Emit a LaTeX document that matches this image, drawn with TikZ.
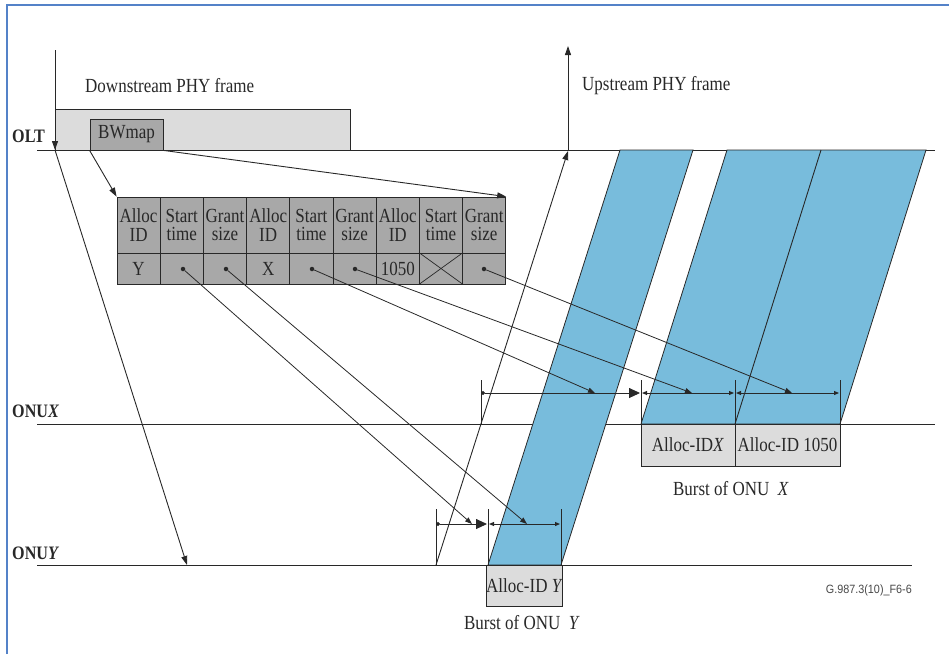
\documentclass[tikz,border=0pt]{standalone}
\usepackage{fontspec}
\setmainfont{Liberation Serif}[FakeStretch=0.85]
\newfontfamily\codefont{Liberation Sans}[FakeStretch=0.9]
\usetikzlibrary{arrows.meta}
\definecolor{lgray}{RGB}{220,220,220}
\definecolor{dgray}{RGB}{168,168,168}
\definecolor{burst}{RGB}{120,188,220}
\definecolor{ink}{RGB}{40,40,40}
\definecolor{frameblue}{RGB}{84,130,200}
\tikzset{
  ln/.style={draw=ink, line width=0.9pt},
  arr/.style={ln, -{Triangle[length=9pt,width=6pt]}},
  ptr/.style={draw=ink, line width=0.8pt, -{Triangle[length=7pt,width=5pt]}},
  dimbig/.style={ln, {Circle[length=4pt]}-{Triangle[length=11pt,width=10pt]}},
  dimsmall/.style={ln, {Triangle[length=5pt,width=4pt]}-{Triangle[length=5pt,width=4pt]}},
  txt/.style={inner sep=0pt, text=ink, font=\fontsize{20}{20}\selectfont},
  lbl/.style={inner sep=0pt, anchor=west, text=ink, font=\fontsize{19}{19}\selectfont\bfseries},
  cell/.style={draw=ink, line width=0.8pt, fill=dgray, minimum width=43.2pt, inner sep=0pt,
     align=center, text=ink, font=\fontsize{20}{18.5}\selectfont},
  hcell/.style={cell, minimum height=56pt},
  vcell/.style={cell, minimum height=31pt},
  dotnode/.style={circle, fill=ink, inner sep=0pt, minimum size=4.5pt},
  burstbox/.style={draw=ink, line width=0.8pt, fill=lgray, inner sep=0pt, text=ink,
     font=\fontsize{20}{20}\selectfont},
  burstfill/.style={fill=burst, draw=ink, line width=0.8pt},
}
\begin{document}
\begin{tikzpicture}[x=1pt,y=-1pt]
\useasboundingbox (0,0) rectangle (949,654);
% outer frame
\draw[frameblue, line width=2pt] (7,654) -- (7,5) -- (949,5);

% time lines
\coordinate (oltL) at (37,150);  \coordinate (oltR) at (935,150);
\coordinate (onxL) at (37,424);  \coordinate (onxR) at (935,424);
\coordinate (onyL) at (37,565);  \coordinate (onyR) at (912,565);
\draw[ln] (oltL) -- (oltR);
\draw[ln] (onxL) -- (onxR);
\draw[ln] (onyL) -- (onyR);
\node[lbl] (olt) at (12,136) {OLT};
\node[lbl] (onux) at (12,411) {ONU\textit{X}};
\node[lbl] (onuy) at (12,553) {ONU\textit{Y}};

% blue bursts
\path[burstfill] (488,565) -- (561,565) -- (693,150) -- (620,150) -- cycle;
\path[burstfill] (641,424) -- (840,424) -- (926,150) -- (727,150) -- cycle;
\draw[ln] (735,424) -- (821,150);

% downstream frame
\node[draw=ink, line width=0.8pt, fill=lgray, minimum width=295pt, minimum height=41pt, inner sep=0pt] (dsf) at (202.5,129.5) {};
\node[draw=ink, line width=0.8pt, fill=dgray, minimum width=73pt, minimum height=31pt, inner sep=0pt,
      text=ink, font=\fontsize{20}{20}\selectfont] (bw) at (126.5,134.5) {BWmap};
\node[txt, anchor=west] (dstxt) at (85,86) {Downstream PHY frame};
\coordinate (dstop) at (55,50);
\coordinate (dsolt) at (55,150);
\coordinate (dsonuy) at (187,565);
\draw[arr] (dstop) -- (dsolt);
\draw[arr] (dsolt) -- (dsonuy);

% upstream frame
\coordinate (usolt) at (568,150);
\coordinate (ustop) at (568,46);
\coordinate (usonuy) at (436,565);
\coordinate (usoltin) at (568,151);
\draw[arr] (usolt) -- (ustop);
\draw[arr] (usonuy) -- (usoltin);
\node[txt, anchor=west] (ustxt) at (582,86) {Upstream PHY frame};

% BWmap table
\foreach \i/\t in {1/{Alloc\\ID},2/{Start\\time},3/{Grant\\size},4/{Alloc\\ID},5/{Start\\time},6/{Grant\\size},7/{Alloc\\ID},8/{Start\\time},9/{Grant\\size}}{
  \node[hcell] (h\i) at ({117+43.2*(\i-0.5)},225) {\t};
}
\foreach \i/\t in {1/Y,2/{},3/{},4/X,5/{},6/{},7/1050,8/{},9/{}}{
  \node[vcell] (v\i) at ({117+43.2*(\i-0.5)},268.5) {\t};
}
\draw[ln, line width=0.7pt] (v8.north west) -- (v8.south east);
\draw[ln, line width=0.7pt] (v8.south west) -- (v8.north east);
\draw[arr] (bw.south west) -- (h1.north west);
\draw[arr] (bw.south east) -- (h9.north east);

\node[dotnode] (d2) at (183,269) {};
\node[dotnode] (d3) at (226,269) {};
\node[dotnode] (d5) at (312,269) {};
\node[dotnode] (d6) at (355,269) {};
\node[dotnode] (d9) at (484,269) {};

% ONU X dimension lines
\draw[ln] (481,380) -- (481,424);
\draw[ln] (641,380) -- (641,424);
\draw[ln] (735,380) -- (735,424);
\draw[ln] (840,380) -- (840,424);
\draw[dimbig] (481,393) -- (640,393);
\draw[dimsmall] (642,393) -- (734,393);
\draw[dimsmall] (736,393) -- (839,393);
\coordinate (tx1) at (595,393);
\coordinate (tx2) at (692,393);
\coordinate (tx3) at (792,393);
\draw[ptr] (d5) -- (tx1);
\draw[ptr] (d6) -- (tx2);
\draw[ptr] (d9) -- (tx3);

% ONU Y dimension lines
\draw[ln] (436,509) -- (436,565);
\draw[ln] (488,509) -- (488,565);
\draw[ln] (561,509) -- (561,565);
\draw[dimbig] (436,524) -- (487,524);
\draw[dimsmall] (489,524) -- (560,524);
\coordinate (ty1) at (472,524);
\coordinate (ty2) at (527,524);
\draw[ptr] (d2) -- (ty1);
\draw[ptr] (d3) -- (ty2);

% burst boxes
\node[burstbox, minimum width=94pt, minimum height=42pt] (bx1) at (688,445) {Alloc-ID\textit{X}};
\node[burstbox, minimum width=105pt, minimum height=42pt] (bx2) at (787.5,445) {Alloc-ID 1050};
\node[burstbox, minimum width=73pt, minimum height=41pt] (by1) at (524.5,585.5) {Alloc-ID \textit{Y}};
\node[txt] (bxl) at (731,489) {Burst of ONU\ \ \textit{X}};
\node[txt] (byl) at (522,623) {Burst of ONU\ \ \textit{Y}};

\node[inner sep=0pt, anchor=east, text=ink!85, font=\codefont\fontsize{12}{12}\selectfont] (code) at (912,590) {G.987.3(10)\_F6-6};
\end{tikzpicture}
\end{document}
